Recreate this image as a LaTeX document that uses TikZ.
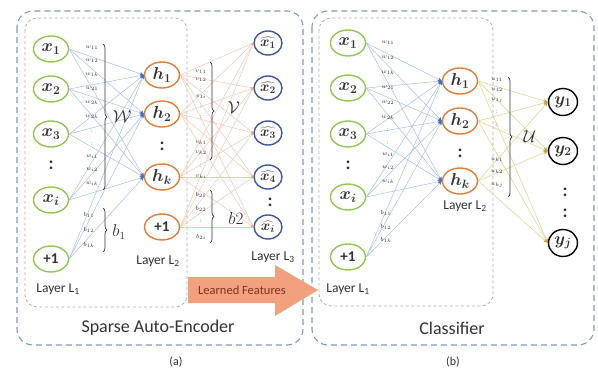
\documentclass[tikz,border=0pt]{standalone}
\usepackage{fontspec}
\setmainfont{Carlito}
\usetikzlibrary{arrows.meta,decorations.pathreplacing,shapes.geometric}
\definecolor{cgreen}{RGB}{146,200,80}
\definecolor{corange}{RGB}{230,125,55}
\definecolor{cblue}{RGB}{60,85,165}
\definecolor{eblue}{RGB}{165,192,232}
\definecolor{ablue}{RGB}{70,110,190}
\definecolor{esalmon}{RGB}{247,198,178}
\definecolor{asalmon}{RGB}{240,165,135}
\definecolor{eyellow}{RGB}{230,213,145}
\definecolor{ayellow}{RGB}{195,165,45}
\definecolor{boxblue}{RGB}{125,155,200}
\definecolor{boxgray}{RGB}{175,175,175}
\definecolor{arrowfill}{RGB}{242,160,125}
\definecolor{txt}{RGB}{50,50,50}
\begin{document}
\begin{tikzpicture}[x=1pt,y=-1pt,
  every node/.style={text=txt},
  nd/.style={ellipse,line width=1.4pt,inner sep=0pt,minimum width=35pt,minimum height=26pt,font=\fontsize{18}{18}\selectfont\boldmath},
  xn/.style={nd,draw=cgreen},
  hn/.style={nd,draw=corange},
  on/.style={nd,draw=cblue,minimum width=28pt,minimum height=24pt,font=\fontsize{14}{14}\selectfont\boldmath},
  yn/.style={nd,draw=black,minimum width=29pt,minimum height=27pt,font=\fontsize{17}{17}\selectfont\boldmath},
  pone/.style={font=\fontsize{15}{15}\selectfont\bfseries},
  vdot/.style={font=\fontsize{18}{18}\selectfont\bfseries,inner sep=0pt},
  wl/.style={font=\fontsize{6}{6}\selectfont,inner sep=0pt},
  brl/.style={font=\fontsize{16}{16}\selectfont,inner sep=0pt},
  layertxt/.style={font=\fontsize{13.5}{14}\selectfont,inner sep=0pt},
  titletxt/.style={font=\fontsize{18}{18}\selectfont,inner sep=0pt},
  captxt/.style={font=\fontsize{12}{12}\selectfont,inner sep=0pt},
  e1/.style={draw=eblue,line width=0.5pt,-{Stealth[length=4pt,width=3.5pt,color=ablue]}},
  e2/.style={draw=esalmon,line width=0.5pt,-{Stealth[length=2.5pt,width=2pt,color=asalmon]}},
  e3/.style={draw=eyellow,line width=0.6pt,-{Stealth[length=4.5pt,width=3.5pt,color=ayellow]}},
  outerbox/.style={draw=boxblue,line width=1.1pt,dash pattern=on 6pt off 4pt,rounded corners=16pt},
  innerbox/.style={draw=boxgray,line width=0.8pt,dash pattern=on 3pt off 2.5pt,rounded corners=12pt},
  br/.style={draw=txt,line width=0.7pt,decorate,decoration={brace,amplitude=4pt}}
]
\useasboundingbox (0,0) rectangle (598,372);
% boxes
\draw[outerbox] (17,11) rectangle (303,345);
\draw[innerbox] (25,18) rectangle (187,307);
\draw[outerbox] (312,11) rectangle (594,345);
\draw[innerbox] (319,18) rectangle (493,306);
% learned features arrow
\fill[arrowfill] (188,277) -- (275,277) -- (275,265) -- (318,290) -- (275,316) -- (275,303) -- (188,303) -- cycle;
\node[font=\fontsize{12.5}{13}\selectfont,text={rgb,255:red,120;green,55;blue,30},inner sep=0pt] (lf) at (242,290) {Learned Features};
% left panel nodes
\node[xn] (lx1) at (51,49) {$x_1$};
\node[xn] (lx2) at (51,89) {$x_2$};
\node[xn] (lx3) at (51,134) {$x_3$};
\node[vdot] (ld1) at (51,165) {:};
\node[xn] (lxi) at (51,200) {$x_i$};
\node[xn,pone] (lp1) at (51,259) {+1};
\node[layertxt] (ll1) at (58,289) {Layer L\textsubscript{1}};
\node[hn] (lh1) at (162,75) {$h_1$};
\node[hn] (lh2) at (162,114) {$h_2$};
\node[vdot] (ld2) at (162,146) {:};
\node[hn] (lhk) at (162,177) {$h_k$};
\node[hn,pone] (lp2) at (162,227) {+1};
\node[layertxt] (ll2) at (158,261) {Layer L\textsubscript{2}};
\node[on] (o1) at (268,43) {$\widehat{x_1}$};
\node[on] (o2) at (268,88) {$\widehat{x_2}$};
\node[on] (o3) at (268,133) {$\widehat{x_3}$};
\node[on] (o4) at (268,177) {$\widehat{x_4}$};
\node[vdot] (ld3) at (270,202) {:};
\node[on] (oi) at (268,227) {$\widehat{x_i}$};
\node[layertxt] (ll3) at (273,257) {Layer L\textsubscript{3}};
% left edges
\foreach \a in {lx1,lx2,lx3,lxi,lp1}
  \foreach \b in {lh1,lh2,lhk}
    \draw[e1] (\a.east) -- (\b.west);
\foreach \a in {lh1,lh2,lhk,lp2}
  \foreach \b in {o1,o2,o3,o4,oi}
    \draw[e2] (\a.east) -- (\b.west);
% left weight labels
\foreach \yy/\lab [count=\k] in {48/w_{11},61/w_{12},75/w_{1k},89/w_{21},103/w_{2k},117/w_{2k},131/:,144/:,157/w_{i1},170/w_{i2},184/w_{ik}}
  \node[wl] (lw\k) at (92,\yy) {$\lab$};
\draw[br] (103,44) coordinate (lwa) -- (103,190) coordinate (lwb);
\node[brl] (lW) at (122,117) {$\mathcal{W}$};
\foreach \yy/\lab [count=\k] in {215/b_{11},230/b_{12},245/b_{1k}}
  \node[wl] (lbl\k) at (89,\yy) {$\lab$};
\draw[br] (103,208) coordinate (lba) -- (103,252) coordinate (lbb);
\node[brl] (lB) at (119,232) {$b_1$};
\foreach \yy/\lab [count=\k] in {72/v_{11},80/v_{12},88/:,97/v_{1i},107/:,117/:,143/v_{k1},153/v_{k2},166/:,177/v_{ki}}
  \node[wl] (lv\k) at (201,\yy) {$\lab$};
\draw[br] (210,62) coordinate (lva) -- (210,160) coordinate (lvb);
\node[brl] (lV) at (234,108) {$\mathcal{V}$};
\foreach \yy/\lab [count=\k] in {195/b_{21},209/b_{22},221/:,237/b_{2i}}
  \node[wl] (lc\k) at (201,\yy) {$\lab$};
\draw[br] (210,190) coordinate (lca) -- (210,243) coordinate (lcb);
\node[brl] (lB2) at (236,218) {$b2$};
\node[titletxt] (t1) at (158,328) {Sparse Auto-Encoder};
\node[captxt] (ca) at (176,362) {(a)};
% right panel nodes
\node[xn] (rx1) at (348,43) {$x_1$};
\node[xn] (rx2) at (348,88) {$x_2$};
\node[xn] (rx3) at (348,134) {$x_3$};
\node[vdot] (rd1) at (348,165) {:};
\node[xn] (rxi) at (348,197) {$x_i$};
\node[xn,pone] (rp1) at (348,257) {+1};
\node[layertxt] (rl1) at (348,289) {Layer L\textsubscript{1}};
\node[hn] (rh1) at (460,81) {$h_1$};
\node[hn] (rh2) at (460,121) {$h_2$};
\node[vdot] (rd2) at (460,153) {:};
\node[hn] (rhk) at (460,181) {$h_k$};
\node[layertxt] (rl2) at (465,206) {Layer L\textsubscript{2}};
\node[yn] (y1) at (563,102) {$y_1$};
\node[yn] (y2) at (563,151) {$y_2$};
\node[vdot] (rd3) at (565,192) {:};
\node[vdot] (rd4) at (565,213) {:};
\node[yn] (yj) at (563,243) {$y_j$};
% right edges
\foreach \a in {rx1,rx2,rx3,rxi,rp1}
  \foreach \b in {rh1,rh2,rhk}
    \draw[e1] (\a.east) -- (\b.west);
\foreach \a in {rh1,rh2,rhk}
  \foreach \b in {y1,y2,yj}
    \draw[e3] (\a.east) -- (\b.west);
% right weight labels
\foreach \yy/\lab [count=\k] in {43/w_{11},58/w_{12},73/w_{1k},88/w_{21},103/w_{22},118/w_{2k},130/:,143/:,155/w_{i1},168/w_{i2},182/w_{ik}}
  \node[wl] (rw\k) at (388,\yy) {$\lab$};
\foreach \yy/\lab [count=\k] in {213/b_{11},227/b_{12},240/b_{1k}}
  \node[wl] (rbl\k) at (386,\yy) {$\lab$};
\foreach \yy/\lab [count=\k] in {80/u_{11},90/u_{12},100/u_{1j},112/:,125/:,160/u_{k1},172/u_{k2},185/u_{kj}}
  \node[wl] (ru\k) at (497,\yy) {$\lab$};
\draw[br] (508,77) coordinate (rua) -- (508,197) coordinate (rub);
\node[brl] (rU) at (530,137) {$\mathcal{U}$};
\node[titletxt] (t2) at (452,328) {Classifier};
\node[captxt] (cb) at (453,362) {(b)};
\end{tikzpicture}
\end{document}
